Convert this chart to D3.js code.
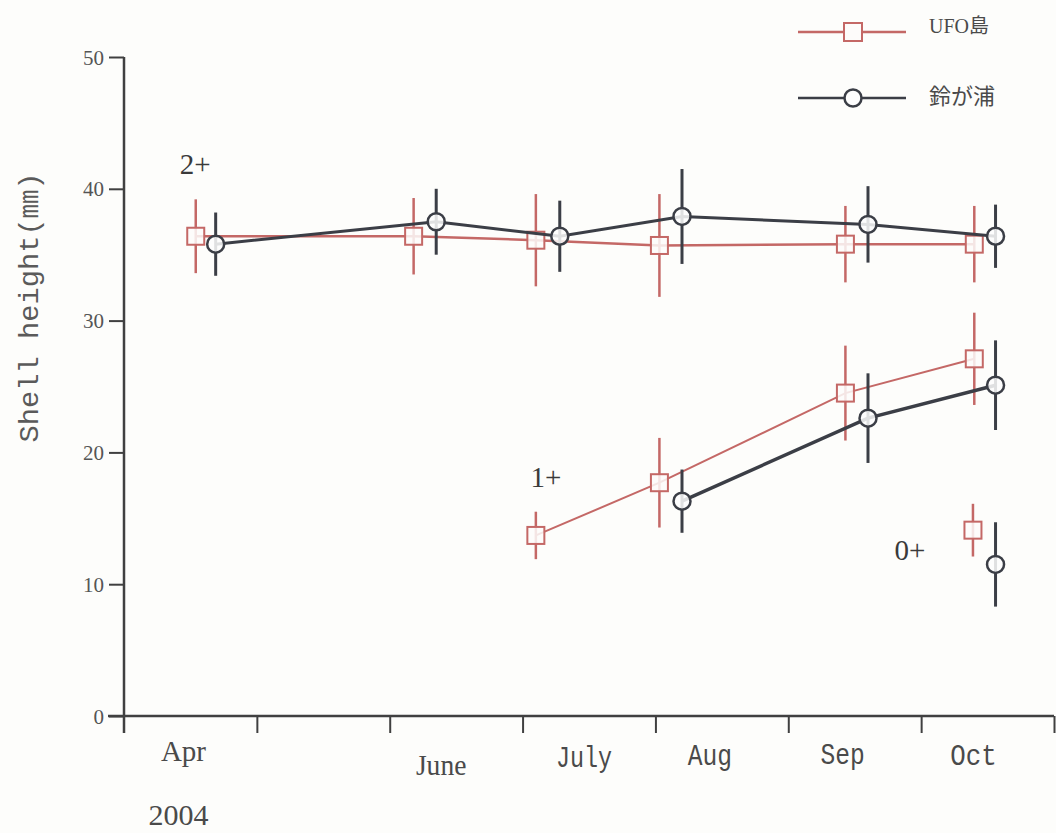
<!DOCTYPE html>
<html>
<head>
<meta charset="utf-8">
<script src="https://cdn.jsdelivr.net/npm/d3@7"></script>
<style>
  html, body { margin: 0; padding: 0; background: #fdfdfb; }
  svg { display: block; }
</style>
</head>
<body>
<svg id="chart" width="1056" height="833"></svg>
<script>
// Sampling months (x = month number, 4 = start of April) and shell heights (mm), mean ± SD
const monthTicks = [4, 5, 6, 7, 8, 9, 10, 11];
const monthLabels = ["Apr", "", "June", "July", "Aug", "Sep", "Oct"];
const yearLabel = "2004";
const yTicks = [0, 10, 20, 30, 40, 50];

// UFO島
const ufoAge2X   = [4.54, 6.18, 7.10, 8.03, 9.43, 10.40];
const ufoAge2Y   = [36.4, 36.4, 36.1, 35.7, 35.8, 35.8];
const ufoAge2Sd  = [2.8, 2.9, 3.5, 3.9, 2.9, 2.9];
const ufoAge1X   = [7.10, 8.03, 9.43, 10.40];
const ufoAge1Y   = [13.7, 17.7, 24.5, 27.1];
const ufoAge1Sd  = [1.8, 3.4, 3.6, 3.5];
const ufoAge0X   = [10.39];
const ufoAge0Y   = [14.1];
const ufoAge0Sd  = [2.0];

// 鈴が浦
const suzAge2X   = [4.69, 6.35, 7.28, 8.20, 9.60, 10.56];
const suzAge2Y   = [35.8, 37.5, 36.4, 37.9, 37.3, 36.4];
const suzAge2Sd  = [2.4, 2.5, 2.7, 3.6, 2.9, 2.4];
const suzAge1X   = [8.20, 9.60, 10.56];
const suzAge1Y   = [16.3, 22.6, 25.1];
const suzAge1Sd  = [2.4, 3.4, 3.4];
const suzAge0X   = [10.56];
const suzAge0Y   = [11.5];
const suzAge0Sd  = [3.2];

const cohortLabels = [
  { text: "2+", x: 4.42, y: 41.1 },
  { text: "1+", x: 7.06, y: 17.4 },
  { text: "0+", x: 9.80, y: 11.85 }
];

const RED = "#c46866";
const DARK = "#3b3e46";
const AXIS = "#404040";
const SERIF = "'Liberation Serif', 'DejaVu Serif', serif";
const MONO = "'Liberation Mono', 'DejaVu Sans Mono', 'Noto Sans CJK JP', monospace";

const svg = d3.select("#chart");
const x = d3.scaleLinear().domain([4, 11]).range([124, 1054]);
const y = d3.scaleLinear().domain([0, 50]).range([716, 57]);

// y axis
const yAxis = svg.append("g")
  .attr("transform", `translate(${x(4)},0)`)
  .call(d3.axisLeft(y).tickValues(yTicks).tickSize(15).tickPadding(5).tickSizeOuter(0));
yAxis.select(".domain").attr("stroke", AXIS).attr("stroke-width", 2.5)
  .attr("d", `M0,${y(50)}V${y(0) + 17}`);
yAxis.selectAll(".tick line").attr("stroke", AXIS).attr("stroke-width", 2);
yAxis.selectAll(".tick text")
  .attr("font-family", SERIF).attr("font-size", 21).attr("fill", "#555")
  .attr("dy", "0.34em");

// x axis
const xAxis = svg.append("g")
  .attr("transform", `translate(0,${y(0)})`)
  .call(d3.axisBottom(x).tickValues(monthTicks.slice(1)).tickSize(17).tickFormat("").tickSizeOuter(0));
xAxis.select(".domain").attr("stroke", AXIS).attr("stroke-width", 2.5)
  .attr("d", `M${x(4) - 16},0H${x(11)}`);
xAxis.selectAll(".tick line").attr("stroke", AXIS).attr("stroke-width", 2);

// month names, placed within each month interval
const monthStyle = {
  "Apr":  { dx: -7,  base: 761, font: SERIF, size: 29, sx: 1.0 },
  "June": { dx: -15, base: 775, font: SERIF, size: 29, sx: 0.95 },
  "July": { dx: -5,  base: 767, font: MONO,  size: 30, sx: 0.78 },
  "Aug":  { dx: -12, base: 765, font: MONO,  size: 30, sx: 0.82 },
  "Sep":  { dx: -12, base: 764, font: MONO,  size: 30, sx: 0.82 },
  "Oct":  { dx: -14, base: 765, font: MONO,  size: 30, sx: 0.86 }
};
svg.append("g").selectAll("text")
  .data(monthLabels.map((m, i) => ({ m, i })).filter(d => d.m))
  .join("text")
  .attr("text-anchor", "middle")
  .attr("fill", "#4a4a4a")
  .attr("font-family", d => monthStyle[d.m].font)
  .attr("font-size", d => monthStyle[d.m].size)
  .attr("transform", d => {
    const s = monthStyle[d.m];
    const cx = x(monthTicks[d.i] + 0.5) + s.dx;
    return `translate(${cx},${s.base}) scale(${s.sx},1)`;
  })
  .text(d => d.m);

svg.append("text")
  .attr("text-anchor", "middle")
  .attr("font-family", SERIF).attr("font-size", 30).attr("fill", "#4a4a4a")
  .attr("transform", `translate(${x(4.41)},825)`)
  .text(yearLabel);

// y axis title
svg.append("text")
  .attr("font-family", MONO)
  .attr("transform", `translate(38,${y(31)}) rotate(-90)`)
  .attr("text-anchor", "middle")
  .attr("font-size", 27).attr("fill", "#5a5a5a")
  .attr("textLength", 270).attr("lengthAdjust", "spacingAndGlyphs")
  .text("Shell height(㎜)");

// cohort labels
svg.append("g").selectAll("text")
  .data(cohortLabels)
  .join("text")
  .attr("font-family", SERIF)
  .attr("x", d => x(d.x)).attr("y", d => y(d.y))
  .attr("font-size", 29).attr("fill", "#3a3a3a")
  .text(d => d.text);

function drawSeries(xs, ys, sds, color, lineWidth, shape) {
  const pts = xs.map((v, i) => ({ x: v, y: ys[i], sd: sds[i] }));
  const g = svg.append("g");
  if (pts.length > 1) {
    g.append("path")
      .datum(pts)
      .attr("fill", "none")
      .attr("stroke", color)
      .attr("stroke-width", lineWidth)
      .attr("d", d3.line().x(d => x(d.x)).y(d => y(d.y)));
  }
  g.selectAll("line.err")
    .data(pts)
    .join("line")
    .attr("class", "err")
    .attr("x1", d => x(d.x)).attr("x2", d => x(d.x))
    .attr("y1", d => y(d.y - d.sd)).attr("y2", d => y(d.y + d.sd))
    .attr("stroke", color).attr("stroke-width", shape === "square" ? 2.5 : 3);
  if (shape === "square") {
    g.selectAll("rect")
      .data(pts)
      .join("rect")
      .attr("x", d => x(d.x) - 8.5).attr("y", d => y(d.y) - 8.5)
      .attr("width", 17).attr("height", 17)
      .attr("fill", "#fdfbfa").attr("fill-opacity", 0.85)
      .attr("stroke", color).attr("stroke-width", 2);
  } else {
    g.selectAll("circle")
      .data(pts)
      .join("circle")
      .attr("cx", d => x(d.x)).attr("cy", d => y(d.y))
      .attr("r", 8.5)
      .attr("fill", "#fdfdfd").attr("fill-opacity", 0.85)
      .attr("stroke", color).attr("stroke-width", 2.5);
  }
}

drawSeries(ufoAge2X, ufoAge2Y, ufoAge2Sd, RED, 2.5, "square");
drawSeries(suzAge2X, suzAge2Y, suzAge2Sd, DARK, 3, "circle");
drawSeries(ufoAge1X, ufoAge1Y, ufoAge1Sd, RED, 2, "square");
drawSeries(suzAge1X, suzAge1Y, suzAge1Sd, DARK, 3.5, "circle");
drawSeries(ufoAge0X, ufoAge0Y, ufoAge0Sd, RED, 2, "square");
drawSeries(suzAge0X, suzAge0Y, suzAge0Sd, DARK, 3, "circle");

// legend
const legend = [
  { name: "UFO島", color: RED, shape: "square", cy: 32, base: 33, size: 20 },
  { name: "鈴が浦", color: DARK, shape: "circle", cy: 98, base: 104, size: 22 }
];
const lg = svg.append("g");
legend.forEach(d => {
  lg.append("line")
    .attr("x1", 798).attr("x2", 906).attr("y1", d.cy).attr("y2", d.cy)
    .attr("stroke", d.color).attr("stroke-width", 2.5);
  if (d.shape === "square") {
    lg.append("rect")
      .attr("x", 844).attr("y", d.cy - 9).attr("width", 18).attr("height", 18)
      .attr("fill", "#fdfbfa").attr("stroke", d.color).attr("stroke-width", 2);
  } else {
    lg.append("circle")
      .attr("cx", 853).attr("cy", d.cy).attr("r", 8.5)
      .attr("fill", "#fdfdfd").attr("stroke", d.color).attr("stroke-width", 2.5);
  }
  lg.append("text")
    .attr("x", 929).attr("y", d.base)
    .attr("font-family", "'Liberation Serif', 'Noto Sans CJK JP', serif")
    .attr("font-size", d.size).attr("fill", "#4a4a4a")
    .text(d.name);
});
</script>
</body>
</html>
